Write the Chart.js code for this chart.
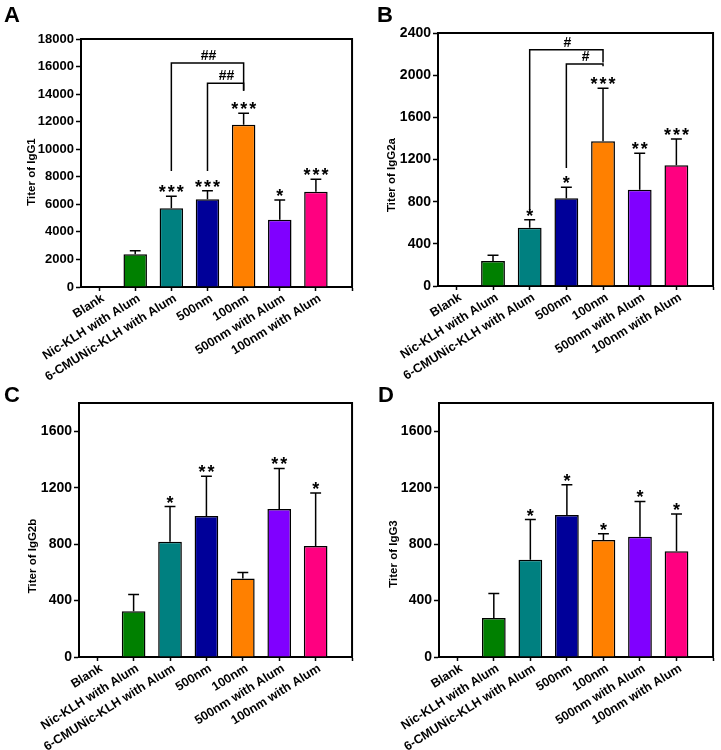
<!DOCTYPE html>
<html>
<head>
<meta charset="utf-8">
<script src="https://cdn.jsdelivr.net/npm/chart.js@4.4.1/dist/chart.umd.min.js"></script>
<style>
  html, body { margin: 0; padding: 0; background: #fff; }
  #wrap { position: relative; width: 721px; height: 750px; overflow: hidden; }
  #wrap canvas { position: absolute; }
</style>
</head>
<body>
<div id="wrap">
  <canvas id="chartA" width="360" height="380" style="left:0;top:0"></canvas>
  <canvas id="chartB" width="361" height="380" style="left:360px;top:0"></canvas>
  <canvas id="chartC" width="360" height="370" style="left:0;top:380px"></canvas>
  <canvas id="chartD" width="361" height="370" style="left:360px;top:380px"></canvas>
</div>
<script>
// groups (x axis)
const categories = ['Blank', 'Nic-KLH with Alum', '6-CMUNic-KLH with Alum', '500nm', '100nm', '500nm with Alum', '100nm with Alum'];
const barColors = ['#ffffff', '#008000', '#008080', '#000099', '#ff8000', '#8000ff', '#ff0080'];

// A - IgG1
const igg1Values = [0, 2370, 5710, 6370, 11780, 4890, 6920];
const igg1Errors = [0, 265, 870, 620, 830, 1425, 900];
const igg1Stars = ['', '', '***', '***', '***', '*', '***'];
const igg1Ticks = [0, 2000, 4000, 6000, 8000, 10000, 12000, 14000, 16000, 18000];
const igg1Brackets = [
  { from: 2, to: 4, y: 16260, leftEnd: 8420, rightEnd: 14250, label: '##' },
  { from: 3, to: 4, y: 14790, leftEnd: 8420, rightEnd: 14250, label: '##' }
];

// B - IgG2a
const igg2aValues = [0, 237, 553, 832, 1372, 914, 1145];
const igg2aErrors = [0, 54, 76, 104, 503, 345, 249];
const igg2aStars = ['', '', '*', '*', '***', '**', '***'];
const igg2aTicks = [0, 400, 800, 1200, 1600, 2000, 2400];
const igg2aBrackets = [
  { from: 2, to: 4, y: 2240, leftEnd: 720, rightEnd: 2120, label: '#' },
  { from: 3, to: 4, y: 2105, leftEnd: 1120, rightEnd: 2085, label: '#' }
];

// C - IgG2b
const igg2bValues = [0, 324, 816, 1000, 557, 1048, 786];
const igg2bErrors = [0, 119, 250, 281, 41, 288, 376];
const igg2bStars = ['', '', '*', '**', '', '**', '*'];
const igg2bTicks = [0, 400, 800, 1200, 1600];

// D - IgG3
const igg3Values = [0, 276, 690, 1007, 829, 852, 750];
const igg3Errors = [0, 174, 284, 214, 45, 250, 264];
const igg3Stars = ['', '', '*', '*', '*', '*', '*'];
const igg3Ticks = [0, 400, 800, 1200, 1600];

const FONT = '"Liberation Sans", Arial, sans-serif';

function panelPlugin(p) {
  return {
    id: 'panel' + p.letter,
    afterDraw(chart) {
      const ctx = chart.ctx;
      const xs = chart.scales.x, ys = chart.scales.y, area = chart.chartArea;
      const bars = chart.getDatasetMeta(0).data;
      ctx.save();
      ctx.strokeStyle = '#000';
      ctx.fillStyle = '#000';

      // frame top + right
      ctx.lineWidth = 2;
      ctx.beginPath();
      ctx.moveTo(area.left, area.top);
      ctx.lineTo(area.right, area.top);
      ctx.lineTo(area.right, area.bottom);
      ctx.stroke();

      // error bars (upper only) and stars
      ctx.lineWidth = 1.5;
      ctx.font = 'bold 18px ' + FONT;
      ctx.textAlign = 'center';
      ctx.textBaseline = 'alphabetic';
      const m = ctx.measureText('*');
      p.errors.forEach((e, i) => {
        if (!e) return;
        const bar = bars[i];
        const top = ys.getPixelForValue(p.values[i]);
        const cap = ys.getPixelForValue(p.values[i] + e);
        const half = bar.width * 0.23;
        ctx.beginPath();
        ctx.moveTo(bar.x, top);
        ctx.lineTo(bar.x, cap);
        ctx.moveTo(bar.x - half, cap);
        ctx.lineTo(bar.x + half, cap);
        ctx.stroke();
        const n = p.stars[i].length;
        const base = cap - 4 - m.actualBoundingBoxDescent;
        for (let k = 0; k < n; k++) {
          ctx.fillText('*', bar.x + (k - (n - 1) / 2) * 9, base);
        }
      });

      // comparison brackets
      ctx.font = 'bold 14px ' + FONT;
      (p.brackets || []).forEach(b => {
        const x1 = xs.getPixelForValue(b.from), x2 = xs.getPixelForValue(b.to);
        const yb = ys.getPixelForValue(b.y);
        ctx.beginPath();
        ctx.moveTo(x1, ys.getPixelForValue(b.leftEnd));
        ctx.lineTo(x1, yb);
        ctx.lineTo(x2, yb);
        ctx.lineTo(x2, ys.getPixelForValue(b.rightEnd));
        ctx.stroke();
        ctx.fillText(b.label, (x1 + x2) / 2 + 1, yb - 3);
      });

      // y title
      ctx.font = 'bold 11.5px ' + FONT;
      ctx.textBaseline = 'middle';
      ctx.translate(p.titleX, p.titleY);
      ctx.rotate(-Math.PI / 2);
      ctx.fillText(p.title, 0, 0);
      ctx.setTransform(1, 0, 0, 1, 0, 0);

      // panel letter
      ctx.font = 'bold 22px ' + FONT;
      ctx.textAlign = 'left';
      ctx.textBaseline = 'alphabetic';
      ctx.fillText(p.letter, p.letterX, 22);
      ctx.restore();
    }
  };
}

function makeChart(p) {
  const xTicks = categories.map((c, i) => i).concat(categories.length);
  new Chart(document.getElementById(p.id), {
    type: 'bar',
    data: {
      datasets: [{
        data: p.values.map((v, i) => ({ x: i, y: v })),
        backgroundColor: barColors,
        borderColor: '#000',
        borderWidth: 1.5,
        borderSkipped: 'start',
        barPercentage: 0.65,
        categoryPercentage: 1
      }]
    },
    options: {
      responsive: false,
      animation: false,
      devicePixelRatio: 1,
      layout: { padding: { top: p.padTop, right: p.padRight, left: 0, bottom: 0 } },
      plugins: { legend: { display: false }, tooltip: { enabled: false } },
      scales: {
        x: {
          type: 'linear',
          offset: false,
          min: -0.5,
          max: categories.length,
          afterBuildTicks: s => { s.ticks = xTicks.map(v => ({ value: v })); },
          afterFit: s => { s.height = p.xHeight; },
          grid: { offset: false, drawOnChartArea: false, tickLength: 4, tickWidth: 1.5, tickColor: '#000' },
          border: { color: '#000', width: 2 },
          ticks: {
            autoSkip: false, minRotation: 32, maxRotation: 32, padding: 0, labelOffset: 4,
            color: '#000', font: { family: FONT, size: 12.5, weight: 'bold' },
            callback: v => categories[v] ?? ''
          }
        },
        y: {
          min: 0,
          max: p.yMax,
          afterBuildTicks: s => { s.ticks = p.yTicks.map(v => ({ value: v })); },
          afterFit: s => { s.width = p.yWidth; },
          grid: { drawOnChartArea: false, tickLength: 5, tickWidth: 1.5, tickColor: '#000' },
          border: { color: '#000', width: 2 },
          ticks: {
            padding: 2, color: '#000',
            font: { family: FONT, size: p.yFont, weight: 'bold' },
            callback: v => String(v)
          }
        }
      }
    },
    plugins: [panelPlugin(p)]
  });
}

makeChart({ id: 'chartA', letter: 'A', letterX: 4, title: 'Titer of IgG1', titleX: 32, titleY: 172,
  values: igg1Values, errors: igg1Errors, stars: igg1Stars, brackets: igg1Brackets,
  yMax: 18000, yTicks: igg1Ticks, yFont: 13, yWidth: 81, xHeight: 93, padTop: 39, padRight: 6 });
makeChart({ id: 'chartB', letter: 'B', letterX: 17, title: 'Titer of IgG2a', titleX: 32, titleY: 175,
  values: igg2aValues, errors: igg2aErrors, stars: igg2aStars, brackets: igg2aBrackets,
  yMax: 2400, yTicks: igg2aTicks, yFont: 14, yWidth: 78, xHeight: 94, padTop: 33, padRight: 6 });
makeChart({ id: 'chartC', letter: 'C', letterX: 4, title: 'Titer of IgG2b', titleX: 33, titleY: 176,
  values: igg2bValues, errors: igg2bErrors, stars: igg2bStars,
  yMax: 1800, yTicks: igg2bTicks, yFont: 14, yWidth: 79, xHeight: 93, padTop: 23, padRight: 3 });
makeChart({ id: 'chartD', letter: 'D', letterX: 18, title: 'Titer of IgG3', titleX: 34, titleY: 174,
  values: igg3Values, errors: igg3Errors, stars: igg3Stars,
  yMax: 1800, yTicks: igg3Ticks, yFont: 14, yWidth: 79, xHeight: 93, padTop: 23, padRight: 3 });
</script>
</body>
</html>
